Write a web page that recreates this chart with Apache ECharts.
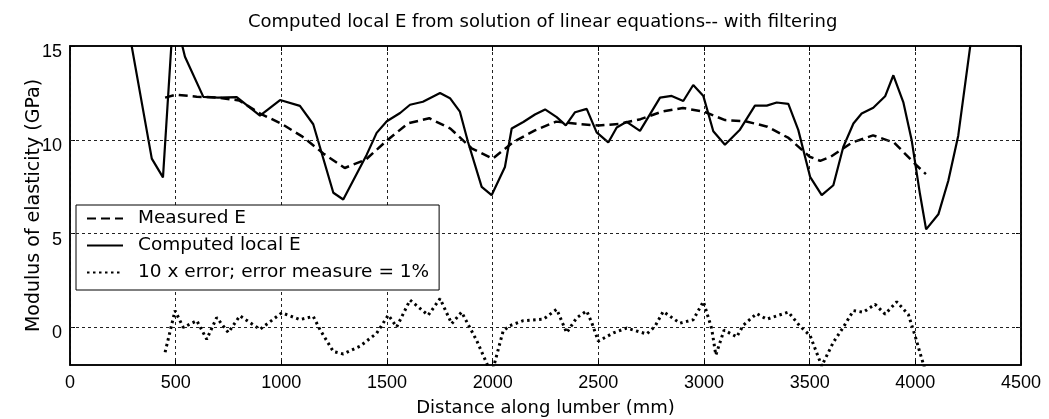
<!DOCTYPE html>
<html>
<head>
<meta charset="utf-8">
<script src="https://cdn.jsdelivr.net/npm/echarts@6/dist/echarts.min.js"></script>
<style>
    html, body { margin: 0; padding: 0; background: #fff; }
    #chart { width: 1049px; height: 419px; }
</style>
</head>
<body>
<div id="chart"></div>
<script>
// distance along lumber (mm) and values
const measuredX = [450, 500, 600, 700, 800, 900, 1000, 1100, 1200, 1300, 1400, 1500, 1600, 1700, 1800, 1900, 2000, 2100, 2200, 2300, 2400, 2500, 2600, 2700, 2800, 2900, 3000, 3100, 3200, 3300, 3400, 3500, 3550, 3600, 3700, 3800, 3900, 4000, 4050];
const measuredE = [12.25, 12.4, 12.3, 12.25, 12.1, 11.4, 10.86, 10.17, 9.26, 8.5, 8.95, 9.97, 10.88, 11.15, 10.6, 9.55, 9.0, 9.9, 10.5, 10.97, 10.85, 10.76, 10.85, 11.1, 11.5, 11.7, 11.5, 11.05, 10.98, 10.7, 10.1, 9.1, 8.88, 9.1, 9.85, 10.24, 9.85, 8.7, 8.17];

const computedX = [260, 387, 440, 490, 544, 631, 700, 789, 899, 994, 1088, 1151, 1246, 1293, 1404, 1451, 1499, 1562, 1609, 1670, 1751, 1798, 1845, 1883, 1948, 1995, 2058, 2090, 2145, 2200, 2248, 2303, 2346, 2390, 2445, 2492, 2547, 2587, 2634, 2697, 2792, 2847, 2902, 2949, 2997, 3044, 3099, 3170, 3241, 3297, 3344, 3399, 3446, 3502, 3557, 3612, 3659, 3707, 3746, 3801, 3857, 3896, 3943, 3983, 4022, 4051, 4109, 4156, 4203, 4259, 4300];
const computedE = [17, 9.0, 8.0, 16.9, 14.43, 12.29, 12.25, 12.28, 11.29, 12.12, 11.81, 10.83, 7.18, 6.82, 9.21, 10.37, 10.99, 11.43, 11.87, 12.03, 12.49, 12.22, 11.5, 9.9, 7.49, 7.05, 8.55, 10.6, 10.95, 11.35, 11.62, 11.21, 10.77, 11.47, 11.65, 10.4, 9.86, 10.66, 10.96, 10.48, 12.25, 12.34, 12.07, 12.92, 12.33, 10.46, 9.74, 10.54, 11.82, 11.82, 11.99, 11.92, 10.53, 8.03, 7.05, 7.58, 9.62, 10.87, 11.4, 11.71, 12.32, 13.44, 12.01, 9.96, 7.11, 5.23, 6.03, 7.82, 10.22, 14.93, 18];

const errorX = [450, 497, 536, 600, 647, 694, 749, 804, 899, 1002, 1088, 1151, 1183, 1246, 1293, 1372, 1451, 1506, 1546, 1609, 1695, 1751, 1806, 1853, 1924, 1995, 2050, 2082, 2145, 2240, 2303, 2350, 2398, 2445, 2469, 2500, 2571, 2634, 2729, 2768, 2807, 2886, 2949, 2997, 3036, 3056, 3095, 3155, 3186, 3249, 3297, 3399, 3454, 3502, 3557, 3612, 3659, 3707, 3754, 3809, 3857, 3912, 3967, 3999, 4022, 4050];
const errorE = [-1.32, 0.9, 0.0, 0.36, -0.63, 0.53, -0.27, 0.62, -0.1, 0.78, 0.42, 0.59, -0.12, -1.28, -1.41, -1.0, -0.31, 0.66, 0.03, 1.46, 0.65, 1.54, 0.2, 0.82, -0.69, -2.5, -0.17, 0.1, 0.36, 0.44, 0.97, -0.28, 0.52, 0.88, 0.25, -0.73, -0.29, -0.03, -0.35, 0.06, 0.85, 0.23, 0.41, 1.38, -0.04, -1.47, -0.14, -0.5, 0.12, 0.74, 0.44, 0.82, 0.07, -0.43, -2.05, -0.79, 0.01, 0.9, 0.81, 1.24, 0.71, 1.37, 0.69, -0.45, -1.35, -2.4];

const seriesNames = ['Measured E', 'Computed local E', '10 x error; error measure = 1%'];
const yTicks = [0, 5, 10, 15];
const yGridLines = [0, 5, 10];

const font = '"Liberation Sans", Arial, Helvetica, sans-serif';
const wideFont = '"DejaVu Sans", Verdana, sans-serif';

function pairs(xs, ys) {
    return xs.map((x, i) => [x, ys[i]]);
}

const chart = echarts.init(document.getElementById('chart'), null, {renderer: 'canvas'});

const gridLineStyle = {color: '#222', width: 1, type: [3, 3]};
const frameLine = {show: true, onZero: false, lineStyle: {color: '#000', width: 1.5}};
const innerTick = {show: true, inside: true, length: 5, lineStyle: {color: '#000'}};

const option = {
    backgroundColor: '#fff',
    animation: false,
    textStyle: {fontFamily: font, color: '#000'},
    title: {
        text: 'Computed local E from solution of linear equations-- with filtering',
        left: 243,
        top: 8,
        textStyle: {fontFamily: wideFont, fontSize: 18, fontWeight: 'normal', color: '#000'}
    },
    grid: {
        left: 70, right: 28, top: 46, bottom: 54,
        outerBoundsMode: 'none',
        show: true, borderColor: '#000', borderWidth: 1.5, backgroundColor: '#fff'
    },
    legend: {
        orient: 'vertical',
        left: 76,
        top: 205,
        padding: [4, 10, 8, 10],
        itemGap: 8,
        itemWidth: 36,
        itemHeight: 14,
        backgroundColor: '#fff',
        borderColor: '#000',
        borderWidth: 1,
        data: seriesNames,
        itemStyle: {color: 'rgba(0,0,0,0)', borderColor: 'rgba(0,0,0,0)', borderWidth: 0},
        textStyle: {fontFamily: wideFont, fontSize: 18.5, color: '#000', padding: [0, 0, 0, 10]}
    },
    xAxis: [{
        type: 'value',
        min: 0, max: 4500, interval: 500,
        name: 'Distance along lumber (mm)',
        nameLocation: 'middle',
        nameGap: 34,
        nameMoveOverlap: false,
        nameTextStyle: {fontFamily: wideFont, fontSize: 18, color: '#000'},
        axisLine: frameLine,
        axisTick: innerTick,
        axisLabel: {fontFamily: font, fontSize: 18, color: '#000', margin: 9, formatter: v => String(v)},
        splitLine: {show: true, lineStyle: gridLineStyle}
    }, {
        type: 'value', position: 'top',
        min: 0, max: 4500, interval: 500,
        axisLine: frameLine,
        axisTick: innerTick,
        axisLabel: {show: false},
        splitLine: {show: false}
    }],
    yAxis: [{
        type: 'value',
        min: -2, max: 15,
        name: 'Modulus of elasticity (GPa)',
        nameLocation: 'middle',
        nameGap: 26,
        nameMoveOverlap: false,
        nameTextStyle: {fontFamily: wideFont, fontSize: 19, color: '#000'},
        axisLine: frameLine,
        axisTick: Object.assign({customValues: yTicks}, innerTick),
        axisLabel: {fontFamily: font, fontSize: 18, color: '#000', margin: 8, verticalAlign: 'top', lineHeight: 12, customValues: yTicks},
        splitLine: {show: false}
    }, {
        type: 'value', position: 'right',
        min: -2, max: 15,
        axisLine: frameLine,
        axisTick: Object.assign({customValues: yTicks}, innerTick),
        axisLabel: {show: false, customValues: yTicks},
        splitLine: {show: false}
    }],
    series: [
        {
            name: seriesNames[0],
            type: 'line',
            data: pairs(measuredX, measuredE),
            symbol: 'none',
            lineStyle: {color: '#000', width: 2.5, type: [9, 5]},
            itemStyle: {color: '#000'},
            z: 3
        },
        {
            name: seriesNames[1],
            type: 'line',
            data: pairs(computedX, computedE),
            symbol: 'none',
            lineStyle: {color: '#000', width: 2.2},
            itemStyle: {color: '#000'},
            z: 4,
            markLine: {
                silent: true,
                symbol: ['none', 'none'],
                label: {show: false},
                lineStyle: gridLineStyle,
                data: yGridLines.map(v => ({yAxis: v}))
            }
        },
        {
            name: seriesNames[2],
            type: 'line',
            data: pairs(errorX, errorE),
            symbol: 'none',
            lineStyle: {color: '#000', width: 3, type: [2.5, 3.5]},
            itemStyle: {color: '#000'},
            z: 3
        }
    ]
};

chart.setOption(option);
</script>
</body>
</html>
